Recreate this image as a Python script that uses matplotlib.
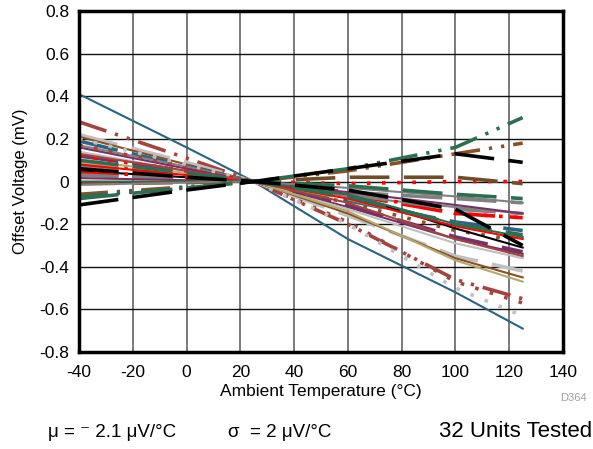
import matplotlib.pyplot as plt
import numpy as np

plt.rcParams["font.family"] = ["Liberation Sans", "DejaVu Sans"]

temps = [-40, 0, 25, 60, 100, 125]

teal = "#2a6482"
brick = "#a5443e"
brown = "#8b5024"
dbrown = "#6f4d26"
lgray = "#c0c0c0"
gray = "#808080"
black = "#000000"
red = "#ff0000"
green = "#2d6e50"
purple = "#773068"
olive = "#b4aa6a"

# (colour, style, offset in mV at each temperature)
units = [
    (teal, "solid", [0.41, 0.16, 0, -0.27, -0.52, -0.69]),
    (brick, "dashdot", [0.28, 0.11, 0, -0.20, -0.46, -0.55]),
    (lgray, "dashed", [0.22, 0.09, 0, -0.16, -0.35, -0.42]),
    (brown, "solid", [0.21, 0.08, 0, -0.15, -0.36, -0.45]),
    (teal, "dashed", [0.19, 0.07, 0, -0.09, -0.19, -0.23]),
    (gray, "solid", [0.17, 0.07, 0, -0.07, -0.12, -0.15]),
    (purple, "solid", [0.16, 0.06, 0, -0.12, -0.27, -0.34]),
    (lgray, "solid", [0.14, 0.05, 0, -0.13, -0.29, -0.36]),
    (purple, "dashed", [0.12, 0.05, 0, -0.11, -0.26, -0.33]),
    (brick, "dotted", [0.17, 0.07, 0, -0.19, -0.47, -0.57]),
    (lgray, "dotted", [0.20, 0.08, 0, -0.20, -0.50, -0.63]),
    (brown, "dotted", [0.09, 0.035, 0, -0.10, -0.23, -0.28]),
    (olive, "dashed", [0.09, 0.035, 0, -0.08, -0.20, -0.26]),
    (olive, "solid", [0.10, 0.04, 0, -0.14, -0.37, -0.47]),
    (gray, "dashed", [0.07, 0.03, 0, -0.05, -0.08, -0.10]),
    (black, "solid", [0.05, 0.02, 0, -0.06, -0.22, -0.31]),
    (red, "dotted", [0.045, 0.02, 0, -0.01, 0.0, 0.0]),
    (red, "dotted", [0.12, 0.05, 0, -0.05, -0.15, -0.17]),
    (red, "dashed", [0.04, 0.015, 0, -0.06, -0.15, -0.17]),
    (red, "solid", [0.08, 0.03, 0, -0.08, -0.21, -0.27]),
    (gray, "dashed", [0.03, 0.01, 0, -0.06, -0.13, -0.15]),
    (purple, "solid", [0.016, 0.006, 0, -0.05, -0.11, -0.15]),
    (green, "solid", [0.0, 0.0, 0, -0.06, -0.20, -0.26]),
    (dbrown, "dashed", [-0.01, -0.005, 0, 0.02, 0.02, -0.01]),
    (gray, "solid", [-0.015, -0.005, 0, -0.03, -0.07, -0.10]),
    (brown, "dashdot", [-0.06, -0.025, 0, 0.05, 0.13, 0.18]),
    (green, "dashdot", [-0.07, -0.03, 0, 0.06, 0.16, 0.30]),
    (green, "dashed", [-0.08, -0.03, 0, -0.02, -0.06, -0.08]),
    (black, "dashed", [-0.11, -0.04, 0, 0.06, 0.13, 0.09]),
    (brick, "solid", [0.13, 0.05, 0, -0.10, -0.27, -0.35]),
    (green, "dashed", [0.10, 0.04, 0, -0.07, -0.20, -0.25]),
    (black, "dashed", [0.06, 0.02, 0, -0.04, -0.13, -0.30]),
]

styles = {
    "solid": dict(lw=1.5, ls="-"),
    "dashed": dict(lw=2.6, ls=(0, (11, 4))),
    "dashdot": dict(lw=2.6, ls=(0, (8, 2.5, 0.9, 2.5, 0.9, 2.5))),
    "dotted": dict(lw=2.6, ls=(0, (1, 3.2))),
}

fig = plt.figure(figsize=(5.93, 4.49), dpi=100)
ax = fig.add_axes([0.1332, 0.216, 0.8162, 0.7595])

for color, style, vals in units:
    ax.plot(temps, vals, color=color, **styles[style])

ax.set_xlim(-40, 140)
ax.set_ylim(-0.8, 0.8)
ax.set_xticks(np.arange(-40, 141, 20))
ax.set_yticks(np.arange(-0.8, 0.81, 0.2))
ax.set_yticklabels(["-0.8", "-0.6", "-0.4", "-0.2", "0", "0.2", "0.4", "0.6", "0.8"])
ax.set_xticklabels([str(v) for v in range(-40, 141, 20)])
ax.tick_params(length=0, labelsize=12.5)
ax.tick_params(axis="x", pad=9)
ax.tick_params(axis="y", pad=7)
ax.set_axisbelow(True)
ax.xaxis.grid(True, color="#7a7a7a", lw=1.4)
ax.yaxis.grid(True, color="#111111", lw=1.0)
for s in ax.spines.values():
    s.set_linewidth(2.5)

ax.set_xlabel("Ambient Temperature (°C)", fontsize=12.5, labelpad=3)
ax.set_ylabel("Offset Voltage (mV)", fontsize=12, labelpad=8)

fig.text(0.967, 0.108, "D364", fontsize=8, color="#a0a0a0", ha="center")
fig.text(0.081, 0.026, "μ = ⁻ 2.1 μV/°C", fontsize=13.5)
fig.text(0.384, 0.026, "σ  = 2 μV/°C", fontsize=13.5)
fig.text(0.741, 0.026, "32 Units Tested", fontsize=16)

fig.savefig("out.png", dpi=100)
